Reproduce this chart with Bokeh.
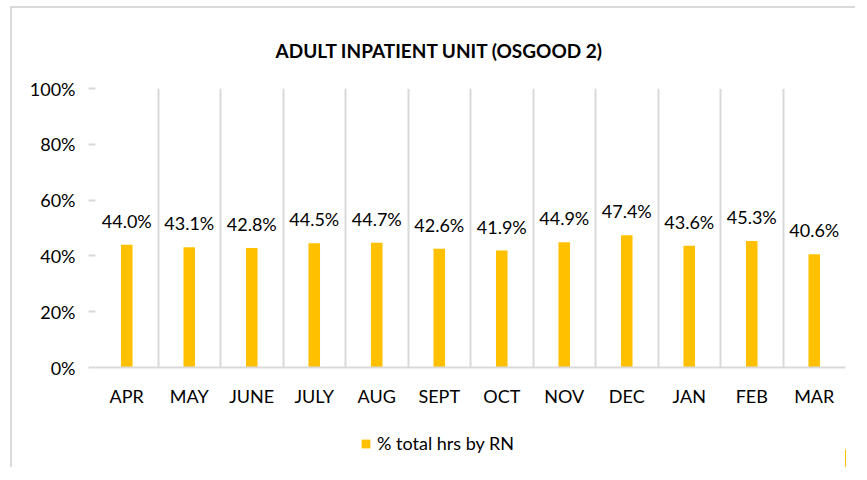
from bokeh.plotting import figure
from bokeh.layouts import column
from bokeh.models import (ColumnDataSource, Range1d, FixedTicker, NumeralTickFormatter,
                          Legend, LegendItem)
from bokeh.core.properties import value
from bokeh.embed import file_html
from bokeh.resources import INLINE

title_text = "ADULT INPATIENT UNIT (OSGOOD 2)"
months = ["APR", "MAY", "JUNE", "JULY", "AUG", "SEPT", "OCT", "NOV", "DEC", "JAN", "FEB", "MAR"]
pct_rn = [44.0, 43.1, 42.8, 44.5, 44.7, 42.6, 41.9, 44.9, 47.4, 43.6, 45.3, 40.6]
series_name = "% total hrs by RN"
y_ticks = [0, 0.2, 0.4, 0.6, 0.8, 1.0]

FONT = "Lato"
BAR = "#FFC000"
GRID = "#d9d9d9"
BORDER = "2px solid #d9d9d9"

xs = list(range(1, len(months) + 1))
src = ColumnDataSource(dict(
    x=xs,
    y=[v / 100 for v in pct_rn],
    lbl=[f"{v:.1f}%" for v in pct_rn],
))

W, H = 845, 421
p = figure(width=W, height=H, output_backend="svg", toolbar_location=None,
           x_range=Range1d(0.5, len(months) + 0.5), y_range=Range1d(0, 1),
           min_border_left=83, min_border_right=W - 83 - 750,
           min_border_top=80, min_border_bottom=H - 80 - 279)
p.margin = (6, 0, 0, 10)
p.styles = {"border-top": BORDER, "border-left": BORDER}
p.outline_line_color = None
p.background_fill_color = "white"
p.border_fill_color = "white"

# title
p.title.text = title_text
p.title.align = "left"
p.title.offset = 180
p.title.standoff = 54
p.title.text_font = FONT
p.title.text_font_size = "19px"
p.title.text_font_style = "bold"
p.title.text_color = "#000000"

bars = p.vbar(x="x", top="y", width=0.185, source=src, fill_color=BAR, line_color=None)
p.text(x="x", y="y", text="lbl", source=src, text_align="center", text_baseline="alphabetic",
       y_offset=-24, text_font=value(FONT), text_font_size="18px", text_color="#000000")

# grids: vertical lines at category boundaries
p.ygrid.grid_line_color = None
p.xgrid.ticker = FixedTicker(ticks=[i + 0.5 for i in range(0, len(months) + 1)])
p.xgrid.grid_line_color = GRID
p.xgrid.grid_line_width = 2

# x axis
p.xaxis.ticker = FixedTicker(ticks=xs)
p.xaxis.major_label_overrides = {x: m for x, m in zip(xs, months)}
p.xaxis.axis_line_color = GRID
p.xaxis.axis_line_width = 2
p.xaxis.major_tick_line_color = None
p.xaxis.minor_tick_line_color = None
p.xaxis.major_label_standoff = 11
p.xaxis.major_label_text_font = FONT
p.xaxis.major_label_text_font_size = "18px"
p.xaxis.major_label_text_color = "#000000"

# y axis
p.yaxis.ticker = FixedTicker(ticks=y_ticks)
p.yaxis.formatter = NumeralTickFormatter(format="0%")
p.yaxis.axis_line_color = None
p.yaxis.major_tick_line_color = GRID
p.yaxis.major_tick_line_width = 2
p.yaxis.major_tick_out = 7
p.yaxis.major_tick_in = 0
p.yaxis.minor_tick_line_color = None
p.yaxis.major_label_standoff = 13
p.yaxis.major_label_text_font = FONT
p.yaxis.major_label_text_font_size = "18px"
p.yaxis.major_label_text_color = "#000000"

# legend strip below the chart
LH = 40
lf = figure(width=W, height=LH, output_backend="svg", toolbar_location=None,
            x_range=Range1d(-2, -1), y_range=Range1d(0, 1),
            x_axis_location=None, y_axis_location=None,
            min_border=0, min_border_left=0, min_border_right=0,
            min_border_top=0, min_border_bottom=0)
lf.margin = (0, 0, 0, 10)
lf.styles = {"border-left": BORDER}
lf.outline_line_color = None
lf.xgrid.visible = False
lf.ygrid.visible = False
lf.background_fill_color = "white"
lf.border_fill_color = "white"
key = lf.vbar(x="x", top="y", width=0.185, source=src, fill_color=BAR, line_color=None)
legend = Legend(items=[LegendItem(label=series_name, renderers=[key])],
                location=(265, 13), orientation="horizontal",
                glyph_width=11, glyph_height=11, label_height=20, padding=0, margin=0,
                label_standoff=6, border_line_color=None, background_fill_alpha=0,
                label_text_font=FONT, label_text_font_size="18px", label_text_color="#000000")
lf.add_layout(legend, "center")

page = column(p, lf, spacing=0)
open("out.html", "w").write(file_html(page, INLINE))
